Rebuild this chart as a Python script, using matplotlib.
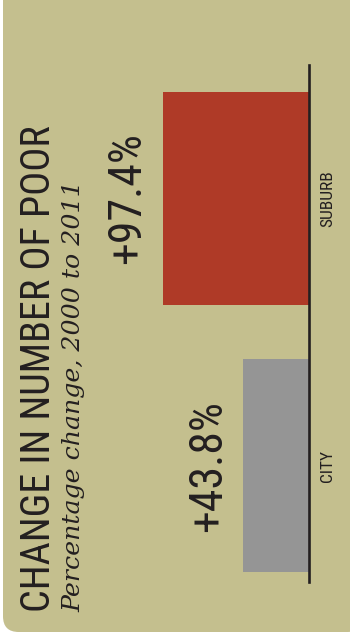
import matplotlib
matplotlib.use("Agg")
import matplotlib.pyplot as plt
from matplotlib.patches import FancyBboxPatch

# Chart data.
CATEGORIES = ["CITY", "SUBURB"]
VALUES = [43.8, 97.4]
VALUE_LABELS = ["+43.8%", "+97.4%"]
BAR_COLORS = ["#959595", "#AF3A27"]

TITLE = "CHANGE IN NUMBER OF POOR"
SUBTITLE = "Percentage change, 2000 to 2011"

CARD_COLOR = "#C4BF8E"
TEXT_COLOR = "#231F20"
NARROW = ["Roboto Condensed", "DejaVu Sans Condensed", "Liberation Sans Narrow", "Roboto"]

W, H = 350, 636


def px(x, y):
    # Pixel position (from top-left) to figure fraction.
    return x / W, 1 - y / H


def main():
    fig = plt.figure(figsize=(W / 100, H / 100), dpi=100)
    fig.patch.set_facecolor("white")

    # Rounded card behind everything.
    card = FancyBboxPatch((3 / W, 4 / H), 360 / W, 650 / H,
                          boxstyle="round,pad=0,rounding_size=0.045",
                          transform=fig.transFigure, facecolor=CARD_COLOR,
                          edgecolor="none", zorder=-1, mutation_aspect=W / H)
    fig.patches.append(card)

    # Axes: zero line at x=309px, bars grow to the left.
    left, top = px(9, 65)
    right, bottom = px(309, 582)
    ax = fig.add_axes([left, bottom, right - left, top - bottom])
    ax.set_zorder(2)
    ax.patch.set_alpha(0)

    ypos = list(range(len(CATEGORIES)))
    ax.barh(ypos, VALUES, height=0.8, color=BAR_COLORS, zorder=2)
    ax.set_xlim(200, 0)
    ax.set_ylim(-0.436, 1.5)

    # Value labels, rotated, just beyond each bar end.
    for y, v, lab in zip(ypos, VALUES, VALUE_LABELS):
        ax.text(v + 9, y, lab, rotation=90, ha="right", va="center",
                fontsize=33, color=TEXT_COLOR, family=NARROW)

    # Category labels on the right of the baseline.
    ax.yaxis.tick_right()
    ax.set_yticks(ypos)
    ax.set_yticklabels(CATEGORIES, rotation=90, va="center", ha="left",
                       fontsize=12.5, color=TEXT_COLOR, family=NARROW)
    ax.tick_params(axis="y", length=0, pad=8)
    ax.set_xticks([])

    for side in ["top", "bottom", "left"]:
        ax.spines[side].set_visible(False)
    ax.spines["right"].set_color(TEXT_COLOR)
    ax.spines["right"].set_linewidth(1.9)
    ax.spines["right"].set_zorder(3)

    # Title and subtitle, rotated.
    x, y = px(39, 612)
    fig.text(x, y, TITLE, rotation=90, ha="center", va="bottom",
             fontsize=28.8, color=TEXT_COLOR, family=NARROW)
    x, y = px(74, 612)
    fig.text(x, y, SUBTITLE, rotation=90, ha="center", va="bottom",
             fontsize=18.2, color=TEXT_COLOR, family=["DejaVu Serif"],
             style="italic")

    fig.savefig("out.png", dpi=100, facecolor=fig.get_facecolor())


if __name__ == "__main__":
    main()
